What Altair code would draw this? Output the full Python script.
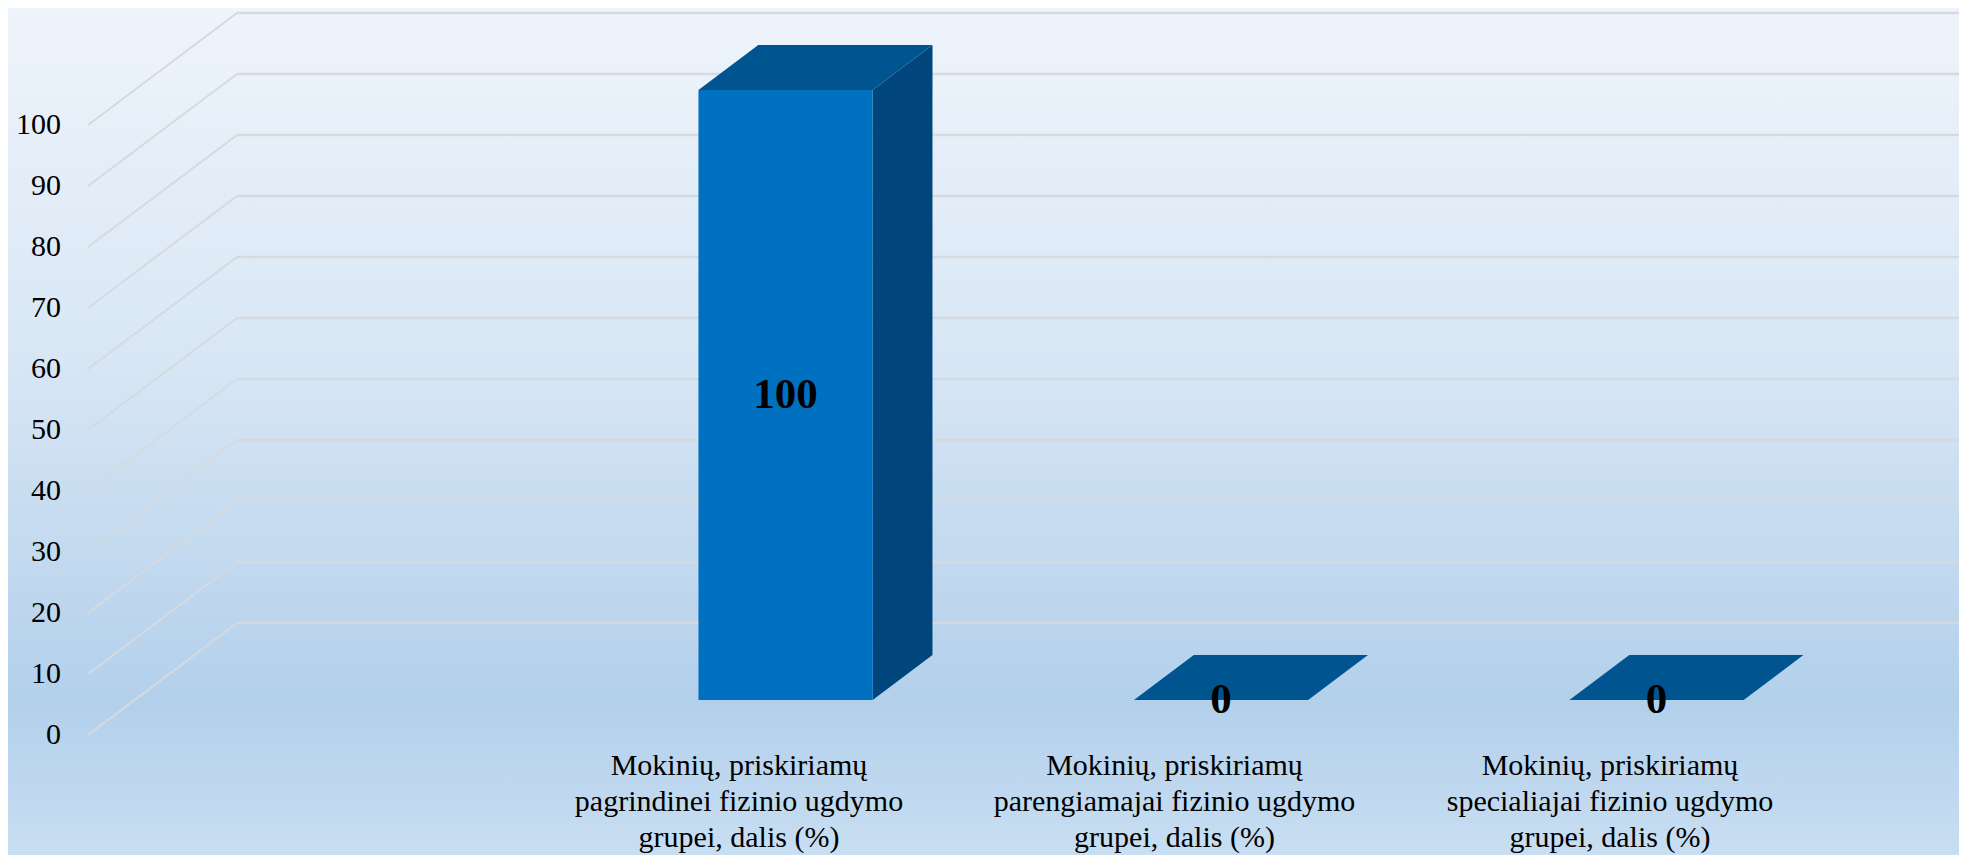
import altair as alt
import pandas as pd

# ---------------- data ----------------
categories = [
    ["Mokinių, priskiriamų", "pagrindinei fizinio ugdymo", "grupei, dalis (%)"],
    ["Mokinių, priskiriamų", "parengiamajai fizinio ugdymo", "grupei, dalis (%)"],
    ["Mokinių, priskiriamų", "specialiajai fizinio ugdymo", "grupei, dalis (%)"],
]
values = [100, 0, 0]
value_labels = ["100", "0", "0"]
y_ticks = [0, 10, 20, 30, 40, 50, 60, 70, 80, 90, 100]
y_tick_labels = [str(t) for t in y_ticks]

# ---------------- layout (3-D projection) ----------------
W, H = 1951, 847
X_DOMAIN = [-1.67853, 2.80138]          # category index units
Y_DOMAIN = [-19.672, 119.180]           # value units
DEPTH_DX = 0.3421                       # x shift of the back wall (category units)
DEPTH_DY = 18.36                        # y shift of the back wall (value units)
D_FRONT, D_BACK = 0.3125, 0.714         # bar depth range (fraction of depth)
HALF_W = 0.2                            # half width of bar front face
WALL_X = -1.4948                        # left edge of floor/wall at front
TICK_X = -1.5568                        # right edge of y tick labels
CAT_Y = -6.557                          # baseline of first category-label line

FONT = "Liberation Serif"
FRONT_C, TOP_C, SIDE_C = "#0070C0", "#005591", "#00467D"
GRID_C = "#D6DADF"

xs = alt.Scale(domain=X_DOMAIN, nice=False, zero=False)
ys = alt.Scale(domain=Y_DOMAIN, nice=False, zero=False)

gradient = alt.LinearGradient(
    gradient="linear",
    stops=[alt.GradientStop(color="#EEF4FB", offset=0),
           alt.GradientStop(color="#D9E7F5", offset=0.4),
           alt.GradientStop(color="#B3D0EB", offset=0.82),
           alt.GradientStop(color="#C8DEF2", offset=1)],
    x1=0, x2=0, y1=0, y2=1)

bg = alt.Chart(pd.DataFrame({"a": [0]})).mark_rect(color=gradient).encode(
    x=alt.value(0), x2=alt.value(W), y=alt.value(0), y2=alt.value(H))

# gridlines
grid = pd.DataFrame({
    "v": y_ticks,
    "xf": [WALL_X] * len(y_ticks),
    "xb": [WALL_X + DEPTH_DX] * len(y_ticks),
    "xe": [X_DOMAIN[1]] * len(y_ticks),
    "yf": y_ticks,
    "yb": [t + DEPTH_DY for t in y_ticks],
    "lab": y_tick_labels,
    "lx": [TICK_X] * len(y_ticks),
})

diag = alt.Chart(grid).mark_rule(color=GRID_C, strokeWidth=2).encode(
    x=alt.X("xf:Q", scale=xs, axis=None), x2="xb:Q",
    y=alt.Y("yf:Q", scale=ys, axis=None), y2="yb:Q")
back = alt.Chart(grid).mark_rule(color=GRID_C, strokeWidth=2.5).encode(
    x=alt.X("xb:Q", scale=xs, axis=None), x2="xe:Q",
    y=alt.Y("yb:Q", scale=ys, axis=None))
ticklab = alt.Chart(grid).mark_text(
    font=FONT, fontSize=30, align="right", baseline="middle", color="black"
).encode(x=alt.X("lx:Q", scale=xs, axis=None),
         y=alt.Y("yf:Q", scale=ys, axis=None), text="lab:N")

# bars
rows_front, rows_side, rows_top = [], [], []
for i, (v, lab) in enumerate(zip(values, value_labels)):
    cf = i + D_FRONT * DEPTH_DX
    cb = i + D_BACK * DEPTH_DX
    yf0 = D_FRONT * DEPTH_DY
    yb0 = D_BACK * DEPTH_DY
    rows_front.append({"cat": i, "x0": cf - HALF_W, "x1": cf + HALF_W,
                       "y0": yf0, "y1": v + yf0, "lx": cf, "ly": v / 2 + yf0,
                       "lab": lab, "cx": i, "cy": CAT_Y, "clab": categories[i]})
    rows_side.append({"cat": i, "x": cf + HALF_W, "ylo": yf0, "yhi": v + yf0})
    rows_side.append({"cat": i, "x": cb + HALF_W, "ylo": yb0, "yhi": v + yb0})
    rows_top.append({"cat": i, "y": v + yf0, "xl": cf - HALF_W, "xr": cf + HALF_W})
    rows_top.append({"cat": i, "y": v + yb0, "xl": cb - HALF_W, "xr": cb + HALF_W})

front_df = pd.DataFrame(rows_front)
side_df = pd.DataFrame(rows_side)
top_df = pd.DataFrame(rows_top)

side = alt.Chart(side_df).mark_area(color=SIDE_C, orient="vertical").encode(
    x=alt.X("x:Q", scale=xs, axis=None),
    y=alt.Y("ylo:Q", scale=ys, axis=None, stack=None), y2="yhi:Q",
    detail="cat:N")
top = alt.Chart(top_df).mark_area(color=TOP_C, orient="horizontal").encode(
    y=alt.Y("y:Q", scale=ys, axis=None),
    x=alt.X("xl:Q", scale=xs, axis=None, stack=None), x2="xr:Q",
    detail="cat:N")
front = alt.Chart(front_df).mark_rect(color=FRONT_C).encode(
    x=alt.X("x0:Q", scale=xs, axis=None), x2="x1:Q",
    y=alt.Y("y0:Q", scale=ys, axis=None), y2="y1:Q")
vlab = alt.Chart(front_df).mark_text(
    font=FONT, fontSize=43, fontWeight="bold", baseline="middle", color="black"
).encode(x=alt.X("lx:Q", scale=xs, axis=None),
         y=alt.Y("ly:Q", scale=ys, axis=None), text="lab:N")
clab = alt.Chart(front_df).mark_text(
    font=FONT, fontSize=30, baseline="alphabetic", lineHeight=36, color="black"
).encode(x=alt.X("cx:Q", scale=xs, axis=None),
         y=alt.Y("cy:Q", scale=ys, axis=None), text="clab")

chart = alt.layer(bg, diag, back, ticklab, side, top, front, vlab, clab).properties(
    width=W, height=H, padding=0,
    autosize=alt.AutoSizeParams(type="none"),
).configure_view(stroke=None)

chart.save("out.html", embed_options={"renderer": "svg", "actions": False})
